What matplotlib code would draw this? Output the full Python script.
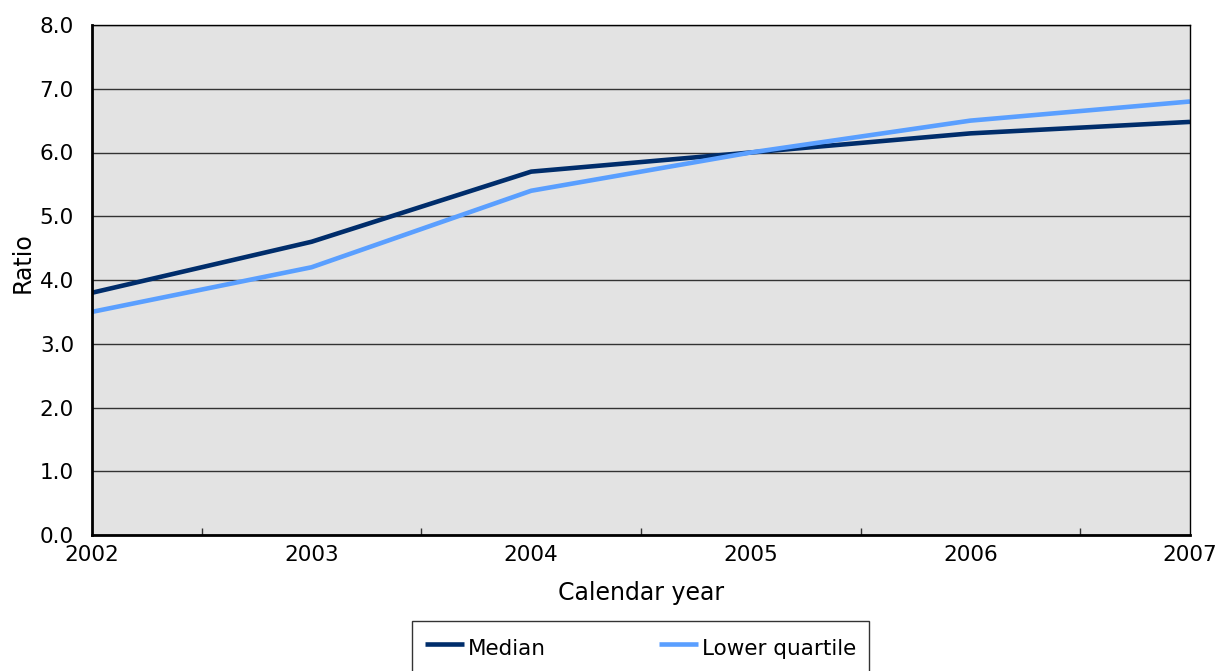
import matplotlib.pyplot as plt
from matplotlib.ticker import MultipleLocator, FixedLocator

years = [2002, 2003, 2004, 2005, 2006, 2007]
median = [3.8, 4.6, 5.7, 6.0, 6.3, 6.48]
lower_quartile = [3.5, 4.2, 5.4, 6.0, 6.5, 6.8]

plt.rcParams['font.family'] = ['DejaVu Sans']
plt.rcParams['font.size'] = 15.5

fig = plt.figure(figsize=(12.21, 6.71), dpi=100)
ax = fig.add_axes([92/1221, 1-535/671, (1190-92)/1221, (535-25)/671])
ax.set_facecolor('#e3e3e3')

ax.plot(years, median, color='#002d6b', lw=3.3, label='Median', solid_capstyle='butt')
ax.plot(years, lower_quartile, color='#5a9fff', lw=3.3, label='Lower quartile', solid_capstyle='butt')

ax.set_xlim(2002, 2007)
ax.set_ylim(0, 8)
ax.yaxis.set_major_locator(MultipleLocator(1))
ax.yaxis.set_major_formatter(lambda v, p: f'{v:.1f}')
ax.grid(axis='y', color='#333333', lw=1)
ax.set_axisbelow(True)

ax.xaxis.set_major_locator(FixedLocator(years))
ax.xaxis.set_minor_locator(FixedLocator([y + 0.5 for y in years[:-1]]))
ax.tick_params(axis='x', which='major', length=0, pad=7)
ax.tick_params(axis='x', which='minor', direction='in', length=5, width=1, color='#333333')
ax.tick_params(axis='y', length=0, pad=13)

for side in ['top', 'right']:
    ax.spines[side].set_linewidth(1)
for side in ['left', 'bottom']:
    ax.spines[side].set_linewidth(2)

ax.set_xlabel('Calendar year', fontsize=17, labelpad=12)
ax.set_ylabel('Ratio', fontsize=17)
ax.yaxis.set_label_coords(-0.052, 0.535)

# legend box runs off the bottom edge of the figure
leg = fig.legend(loc='upper left', bbox_to_anchor=(412/1221, 1-621/671, 457/1221, 0.0),
                 mode='expand', ncol=2, frameon=True, fancybox=False, edgecolor='black',
                 fontsize=15.5, handlelength=1.8, handletextpad=0.2, handleheight=1.6,
                 borderpad=0.6, borderaxespad=0)
leg.get_frame().set_linewidth(1)

fig.savefig('out.png', dpi=100)
